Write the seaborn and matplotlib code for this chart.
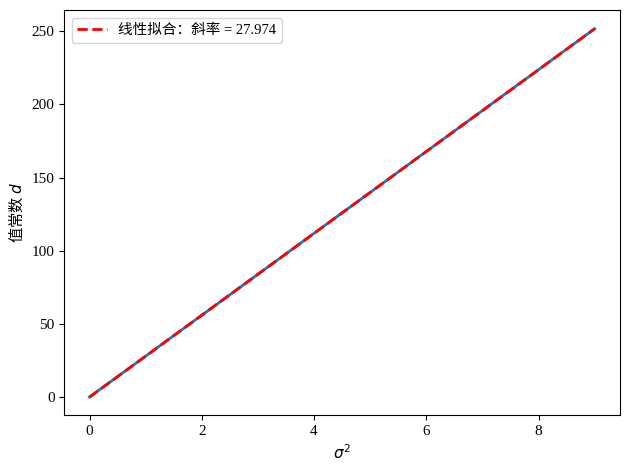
import numpy as np
import pandas as pd
import matplotlib
matplotlib.use('Agg')
import matplotlib.pyplot as plt
import seaborn as sns

# data
sigma2 = [0, 1, 2, 3, 4, 5, 6, 7, 8, 9]
d_vals = [0.0, 27.97, 55.95, 83.92, 111.90, 139.87, 167.84, 195.82, 223.79, 251.77]

plt.rcParams['font.family'] = ['Liberation Serif', 'Noto Sans CJK SC']
plt.rcParams['font.size'] = 11
plt.rcParams['axes.unicode_minus'] = False

df = pd.DataFrame({'sigma2': sigma2, 'd': d_vals})
slope, intercept = np.polyfit(df['sigma2'], df['d'], 1)
df['fit'] = slope * df['sigma2'] + intercept

fig, ax = plt.subplots(figsize=(6.3, 4.7), dpi=100)
sns.lineplot(data=df, x='sigma2', y='d', ax=ax, color='tab:blue', linewidth=2)
sns.lineplot(data=df, x='sigma2', y='fit', ax=ax, color='red', linestyle='--',
             linewidth=2, label=f'线性拟合：斜率 = {slope:.3f}')
ax.set_xlabel(r'$\sigma^2$')
# mathtext only uses the first family for plain text, so name the CJK one here
ax.set_ylabel(r'值常数 $d$', family='Noto Sans CJK SC')
ax.legend(loc='upper left', fontsize=10.5)
fig.subplots_adjust(left=0.102, right=0.984, top=0.978, bottom=0.116)
plt.savefig('out.png')
